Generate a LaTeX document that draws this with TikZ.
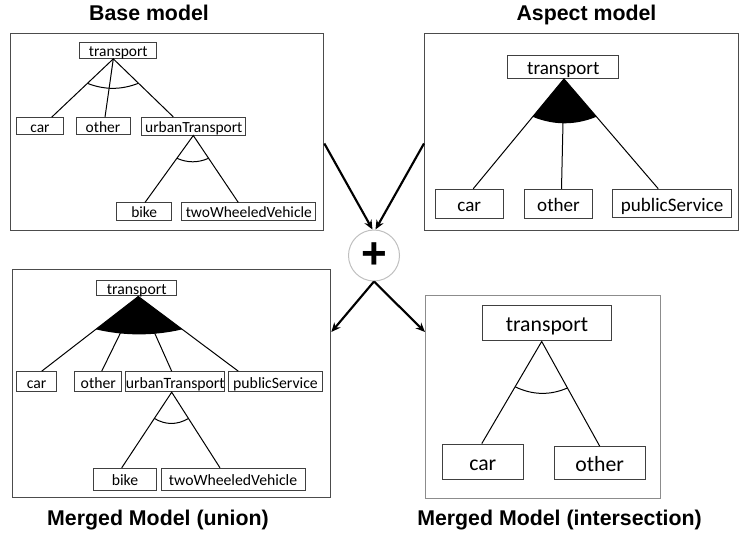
\documentclass[tikz,border=0pt]{standalone}
\usepackage{fontspec}
\setmainfont{Carlito}
\newfontfamily\titlefont{Liberation Sans}
\usetikzlibrary{calc,arrows.meta}
\newcommand\grpArc[3]{\draw[tline] (#1) .. controls ($(#1)!0.333!(#2)+(0,#3)$) and ($(#1)!0.667!(#2)+(0,#3)$) .. (#2);}
\newcommand\grpFill[4]{\fill (#1) -- (#2) .. controls ($(#2)!0.333!(#3)+(0,#4)$) and ($(#2)!0.667!(#3)+(0,#4)$) .. (#3) -- cycle;}
\begin{document}
\begin{tikzpicture}[x=0.75pt,y=-0.75pt,
 feat/.style={draw=black!75,line width=0.75pt,inner sep=0pt,text depth=0pt},
 fone/.style={feat,font=\fontsize{11.6}{13}\selectfont,text height=9.3pt},
 ftwo/.style={feat,font=\fontsize{14.3}{16}\selectfont,text height=11.4pt},
 fthree/.style={feat,font=\fontsize{11.8}{14}\selectfont,text height=9.6pt},
 ffour/.style={feat,font=\fontsize{16.3}{18}\selectfont,text height=13pt},
 panel/.style={draw=black!70,line width=1pt,inner sep=0pt,anchor=north west},
 tline/.style={line width=0.75pt},
 arr/.style={line width=1.6pt,-{Stealth[length=7pt,width=6pt]}},
 ttl/.style={font=\titlefont\bfseries\fontsize{16}{19}\selectfont,inner sep=0pt,anchor=base}
]
\useasboundingbox (0,0) rectangle (739,536);
% titles
\node[ttl] (tb) at (149,20.7) {Base model};
\node[ttl] (ta) at (586.5,20.7) {Aspect model};
\node[ttl] (tu) at (158,525.7) {Merged Model (union)};
\node[ttl] (ti) at (559.5,525.7) {Merged Model (intersection)};
% panels
\node[panel,minimum width=234.75pt,minimum height=147.75pt] (pA) at (10,33) {};
\node[panel,minimum width=235.5pt,minimum height=147.75pt] (pB) at (424,33) {};
\node[panel,minimum width=238.5pt,minimum height=171pt] (pC) at (12,269) {};
\node[panel,draw=black!45,minimum width=176.25pt,minimum height=152.25pt] (pD) at (425,295) {};
% ---------- panel 1
\node[fone,minimum width=57.5pt,minimum height=11.8pt] (t1) at (118.3,50.5) {transport};
\node[fone,minimum width=35pt,minimum height=12.5pt] (car1) at (40,126) {car};
\node[fone,minimum width=40.5pt,minimum height=12.5pt] (other1) at (103,126) {other};
\node[fone,minimum width=78.2pt,minimum height=13.2pt] (urban1) at (193.8,126.2) {urbanTransport};
\node[fone,minimum width=41.25pt,minimum height=12.8pt] (bike1) at (144.2,211.5) {bike};
\node[fone,minimum width=100.7pt,minimum height=12.8pt] (two1) at (248.8,211.5) {twoWheeledVehicle};
\coordinate (a1) at ($(t1.south)+(-5,0)$);
\coordinate (c1) at ($(car1.north)+(11.7,0)$);
\coordinate (o1) at ($(other1.north)+(2,0)$);
\coordinate (u1) at ($(urban1.north)+(-20.5,0)$);
\draw[tline] (c1) -- (a1) -- (u1);
\draw[tline] (a1) -- (o1);
\coordinate (a1l) at ($(a1)!0.42!(c1)$);
\coordinate (a1r) at ($(a1)!0.42!(u1)$);
\grpArc{a1l}{a1r}{6.7}
\coordinate (ua1) at ($(urban1.south)+(-0.5,0)$);
\coordinate (b1) at ($(bike1.north)+(0.8,0)$);
\coordinate (w1) at ($(two1.north)+(-10.5,0)$);
\draw[tline] (b1) -- (ua1) -- (w1);
\coordinate (ua1l) at ($(ua1)!0.34!(b1)$);
\coordinate (ua1r) at ($(ua1)!0.34!(w1)$);
\grpArc{ua1l}{ua1r}{4.7}
% ---------- panel 2
\node[ftwo,minimum width=83.5pt,minimum height=17.5pt] (t2) at (563.3,66.7) {transport};
\node[ftwo,minimum width=51.2pt,minimum height=21.75pt] (car2) at (469.2,203.8) {car};
\node[ftwo,minimum width=51.2pt,minimum height=21.75pt] (other2) at (558.5,203.8) {other};
\node[ftwo,minimum width=89.25pt,minimum height=21.5pt] (pub2) at (672.2,203.5) {publicService};
\coordinate (a2) at ($(t2.south)+(0.7,0)$);
\coordinate (c2) at ($(car2.north)+(4,0)$);
\coordinate (o2) at ($(other2.north)+(3,0)$);
\coordinate (s2) at ($(pub2.north)+(-14,0)$);
\draw[tline] (c2) -- (a2) -- (s2);
\draw[tline] (a2) -- (o2);
\coordinate (a2l) at ($(a2)!0.345!(c2)$);
\coordinate (a2r) at ($(a2)!0.345!(s2)$);
\grpFill{a2}{a2l}{a2r}{8.7}
% ---------- panel 3
\node[fthree,minimum width=60pt,minimum height=11.5pt] (t3) at (136.7,288.3) {transport};
\node[fthree,minimum width=30pt,minimum height=15pt] (car3) at (36.7,381.7) {car};
\node[fthree,minimum width=35pt,minimum height=15pt] (other3) at (98.3,381.7) {other};
\node[fthree,minimum width=73pt,minimum height=15pt] (urban3) at (175.3,381.7) {urbanTransport};
\node[fthree,minimum width=70.7pt,minimum height=15pt] (pub3) at (275.5,381.7) {publicService};
\node[fthree,minimum width=47.5pt,minimum height=16.3pt] (bike3) at (125,479.2) {bike};
\node[fthree,minimum width=108pt,minimum height=16.3pt] (two3) at (233,479.2) {twoWheeledVehicle};
\coordinate (a3) at ($(t3.south)+(1.6,0)$);
\coordinate (c3) at ($(car3.north)+(5,0)$);
\coordinate (o3) at ($(other3.north)+(3.4,0)$);
\coordinate (u3) at ($(urban3.north)+(-3.6,0)$);
\coordinate (s3) at ($(pub3.north)+(-37.2,0)$);
\draw[tline] (c3) -- (a3) -- (s3);
\draw[tline] (a3) -- (o3);
\draw[tline] (a3) -- (u3);
\coordinate (a3l) at ($(a3)!0.44!(c3)$);
\coordinate (a3r) at ($(a3)!0.44!(s3)$);
\grpFill{a3}{a3l}{a3r}{6.7}
\coordinate (ua3) at ($(urban3.south)+(-3.6,0)$);
\coordinate (b3) at ($(bike3.north)+(-3.3,0)$);
\coordinate (w3) at ($(two3.north)+(-13,0)$);
\draw[tline] (b3) -- (ua3) -- (w3);
\coordinate (ua3l) at ($(ua3)!0.347!(b3)$);
\coordinate (ua3r) at ($(ua3)!0.347!(w3)$);
\grpArc{ua3l}{ua3r}{6.7}
% ---------- panel 4
\node[ffour,minimum width=97pt,minimum height=26.5pt] (t4) at (547,323.3) {transport};
\node[ffour,minimum width=60.75pt,minimum height=26.5pt] (car4) at (482.8,461.7) {car};
\node[ffour,minimum width=68pt,minimum height=24.5pt] (other4) at (599.7,463) {other};
\coordinate (a4) at ($(t4.south)+(-5.3,0)$);
\coordinate (c4) at ($(car4.north)+(-1,0)$);
\coordinate (o4) at (other4.north);
\draw[tline] (c4) -- (a4) -- (o4);
\coordinate (a4l) at ($(a4)!0.444!(c4)$);
\coordinate (a4r) at ($(a4)!0.444!(o4)$);
\grpArc{a4l}{a4r}{8}
% ---------- plus and arrows
\node[circle,draw=black!25,line width=0.75pt,minimum size=38.25pt,inner sep=0pt,
      font=\titlefont\bfseries\fontsize{33}{33}\selectfont] (plus) at (374,255.5) {+};
\draw[arr] ($(pA.north east)!0.557!(pA.south east)$) -- ($(plus.north)+(-1.5,0)$);
\draw[arr] ($(pB.north west)!0.557!(pB.south west)$) -- ($(plus.north)+(1.5,0)$);
\draw[arr] (plus.south) -- ($(pC.north east)!0.275!(pC.south east)$);
\draw[arr] (plus.south) -- ($(pD.north west)!0.181!(pD.south west)$);
\end{tikzpicture}
\end{document}
